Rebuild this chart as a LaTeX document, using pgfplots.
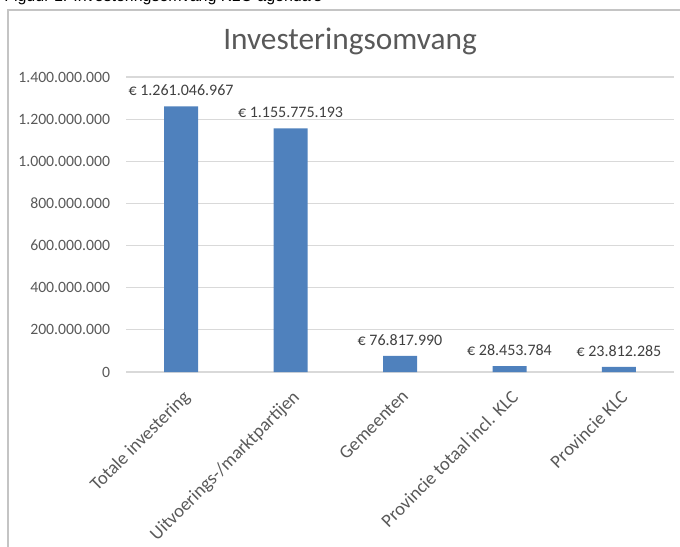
\documentclass[border=0pt]{standalone}
\usepackage{pgfplots}
\pgfplotsset{compat=1.18}
\usepackage{pgfplotstable}
\usepackage{fontspec}
\setmainfont{Carlito}
\newfontfamily\arialfont{Liberation Sans}
\definecolor{barblue}{HTML}{4F81BD}
\definecolor{gridc}{HTML}{D9D9D9}
\definecolor{tickc}{HTML}{595959}
\definecolor{labc}{HTML}{404040}
\definecolor{framec}{HTML}{C4C4C4}
\pgfplotstableread[col sep=comma]{
x,y,lab
0,1261046967,€ 1.261.046.967
1,1155775193,€ 1.155.775.193
2,76817990,€ 76.817.990
3,28453784,€ 28.453.784
4,23812285,€ 23.812.285
}\datatable
\begin{document}
\begin{tikzpicture}
\useasboundingbox (0,0) rectangle (510pt,409.5pt);
\clip (0,0) rectangle (510pt,409.5pt);
% caption (cut off at top)
\node[anchor=base west, inner sep=0pt, font=\arialfont\fontsize{12}{14}\selectfont] at (3pt,408.6pt) {Figuur 1: Investeringsomvang KLC-agenda's};
% frame
\draw[framec, line width=1pt] (6pt,-10pt) -- (6pt,402pt) -- (530pt,402pt);
% title
\node[anchor=base, inner sep=0pt, text=tickc, font=\fontsize{23.5}{28}\selectfont] at (262.5pt,372pt) {Investeringsomvang};
\begin{axis}[
  at={(94.7pt,130.5pt)}, anchor=south west,
  width=410.6pt, height=221.25pt, scale only axis,
  ybar, bar width=25.5pt,
  xmin=-0.5, xmax=4.5, ymin=0, ymax=1400000000,
  scaled y ticks=false,
  clip=false,
  axis line style={draw=none},
  major tick length=0pt,
  ymajorgrids, major grid style={draw=gridc, line width=0.9pt},
  ytick={0,200000000,400000000,600000000,800000000,1000000000,1200000000,1400000000},
  yticklabels={0,200.000.000,400.000.000,600.000.000,800.000.000,1.000.000.000,1.200.000.000,1.400.000.000},
  yticklabel style={font=\fontsize{11.8}{14}\selectfont, text=tickc, anchor=east, inner sep=0pt, xshift=-12pt},
  xtick={0,1,2,3,4},
  xticklabels={Totale investering,Uitvoerings-/marktpartijen,Gemeenten,Provincie totaal incl. KLC,Provincie KLC},
  xticklabel style={font=\fontsize{13.9}{16}\selectfont, text=tickc, inner sep=0pt, xshift=0.5pt, yshift=-12.5pt, rotate=45, anchor=north east},
  nodes near coords, point meta=explicit symbolic,
  every node near coord/.append style={font=\fontsize{12}{14}\selectfont, text=labc, anchor=base, inner sep=0pt, yshift=7.9pt},
]
\addplot[fill=barblue, draw=none] table[x=x, y=y, meta=lab] {\datatable};
\end{axis}
\end{tikzpicture}
\end{document}
